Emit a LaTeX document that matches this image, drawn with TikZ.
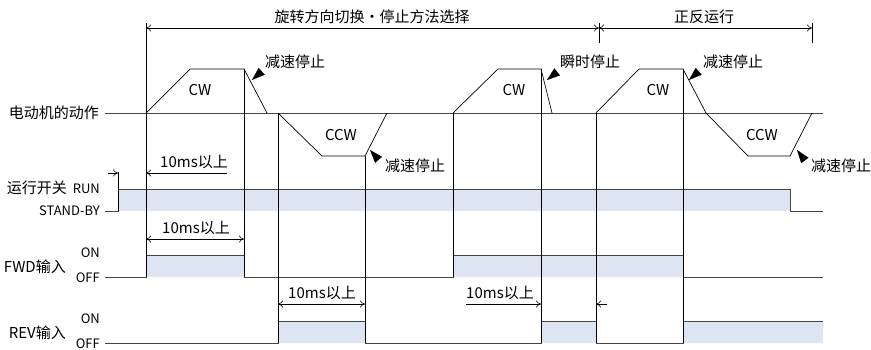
\documentclass[tikz,border=0pt]{standalone}
\usepackage{fontspec}
\setmainfont{Noto Sans CJK SC}
\usetikzlibrary{arrows.meta}
\definecolor{onblue}{RGB}{221,229,242}
\definecolor{sigline}{RGB}{70,70,70}

\begin{document}
\begin{tikzpicture}[x=1pt, y=-1pt, font=\fontsize{15}{18}\selectfont,
    txt/.style={inner sep=0pt},
    small/.style={inner sep=0pt, font=\fontsize{13}{15}\selectfont},
    sig/.style={sigline, line width=0.9pt},
    edgeline/.style={black, line width=0.7pt},
    dim/.style={line width=0.6pt, {To[length=5pt,width=7pt]}-{To[length=5pt,width=7pt]}},
    dimend/.style={line width=0.6pt, -{To[length=5pt,width=7pt]}},
    pointer/.style={-{Triangle[length=13pt,width=9pt]}, line width=0.1pt}]
    \useasboundingbox (0,0) rectangle (871,349);

    % Fills for the ON periods
    \fill[onblue] (118,189) rectangle (790,211);
    \fill[onblue] (146,255) rectangle (244,277);
    \fill[onblue] (453,255) rectangle (683,277);
    \fill[onblue] (278,321) rectangle (365,343);
    \fill[onblue] (541,321) rectangle (596,343);
    \fill[onblue] (683,321) rectangle (823,343);

    % Left labels
    \node[txt, anchor=east] (motor) at (99,113) {电动机的动作};
    \node[txt, anchor=east] (runsw) at (67,188) {运行开关};
    \node[small, anchor=east] (run) at (100,189) {RUN};
    \node[small, anchor=east] (standby) at (100,211) {STAND-BY};
    \node[txt, anchor=east] (fwd) at (66,267) {FWD输入};
    \node[small, anchor=east] (fwdon) at (100,253) {ON};
    \node[small, anchor=east] (fwdoff) at (100,278) {OFF};
    \node[txt, anchor=east] (rev) at (66,333) {REV输入};
    \node[small, anchor=east] (revon) at (100,319) {ON};
    \node[small, anchor=east] (revoff) at (100,344) {OFF};

    % Motor action
    \draw[sig] (105,113) -- (823,113);
    \draw[edgeline] (146,113) -- (190,69) -- (244,69) -- (267,113);
    \draw[edgeline] (278,113) -- (322,156) -- (365,156) -- (387,113);
    \draw[edgeline] (453,113) -- (498,69) -- (541,69) -- (552,113);
    \draw[edgeline] (596,113) -- (639,69) -- (683,69) -- (706,113);
    \draw[edgeline] (706,113) -- (748,156) -- (790,156) -- (812,113);
    \node[txt] (cw1) at (200,90) {CW};
    \node[txt] (ccw1) at (341,135) {CCW};
    \node[txt] (cw2) at (514,90) {CW};
    \node[txt] (cw3) at (658,90) {CW};
    \node[txt] (ccw3) at (762,135) {CCW};

    % Stop pointers
    \draw[pointer] (262,71) -- (252,80);
    \node[txt] (stop1) at (295,62) {减速停止};
    \draw[pointer] (377,158) -- (370,150);
    \node[txt] (stop2) at (415,166) {减速停止};
    \draw[pointer] (557,72) -- (547,80);
    \node[txt] (stop3) at (590,62) {瞬时停止};
    \draw[pointer] (699,71) -- (689,80);
    \node[txt] (stop4) at (733,62) {减速停止};
    \draw[pointer] (803,158) -- (797,150);
    \node[txt] (stop5) at (841,166) {减速停止};

    % Run switch, FWD and REV signals
    \draw[sig] (105,211) -- (118,211) -- (118,189) -- (790,189) -- (790,211) -- (823,211);
    \draw[sig] (105,277) -- (146,277) -- (146,255) -- (244,255) -- (244,277)
        -- (453,277) -- (453,255) -- (683,255) -- (683,277) -- (823,277);
    \draw[sig] (105,343) -- (278,343) -- (278,321) -- (365,321) -- (365,343)
        -- (541,343) -- (541,321) -- (596,321) -- (596,343) -- (683,343)
        -- (683,321) -- (823,321);

    % Timing lines
    \draw[edgeline] (146,23) -- (146,277);
    \draw[edgeline] (118,172) -- (118,211);
    \draw[edgeline] (244,69) -- (244,277);
    \draw[edgeline] (278,113) -- (278,343);
    \draw[edgeline] (365,156) -- (365,343);
    \draw[edgeline] (453,113) -- (453,277);
    \draw[edgeline] (541,69) -- (541,343);
    \draw[edgeline] (596,113) -- (596,343);
    \draw[edgeline] (683,69) -- (683,343);
    \draw[edgeline] (599,23) -- (599,43);
    \draw[edgeline] (812,23) -- (812,43);

    % Dimensions
    \draw[dim] (146,28) -- (599,28);
    \draw[dim] (599,28) -- (812,28);
    \node[txt] (select) at (372,17) {旋转方向切换・停止方法选择};
    \node[txt] (fwdrev) at (704,17) {正反运行};

    \draw[dimend] (108,173) -- (118,173);
    \draw[dimend] (227,173) -- (146,173);
    \node[txt] (t1) at (194,162) {10ms以上};
    \draw[dim] (146,239) -- (244,239);
    \node[txt] (t2) at (196,228) {10ms以上};
    \draw[dim] (278,304) -- (365,304);
    \node[txt] (t3) at (322,293) {10ms以上};
    \draw[dimend] (466,304) -- (541,304);
    \draw[dimend] (607,304) -- (596,304);
    \node[txt] (t4) at (500,293) {10ms以上};
\end{tikzpicture}
\end{document}
